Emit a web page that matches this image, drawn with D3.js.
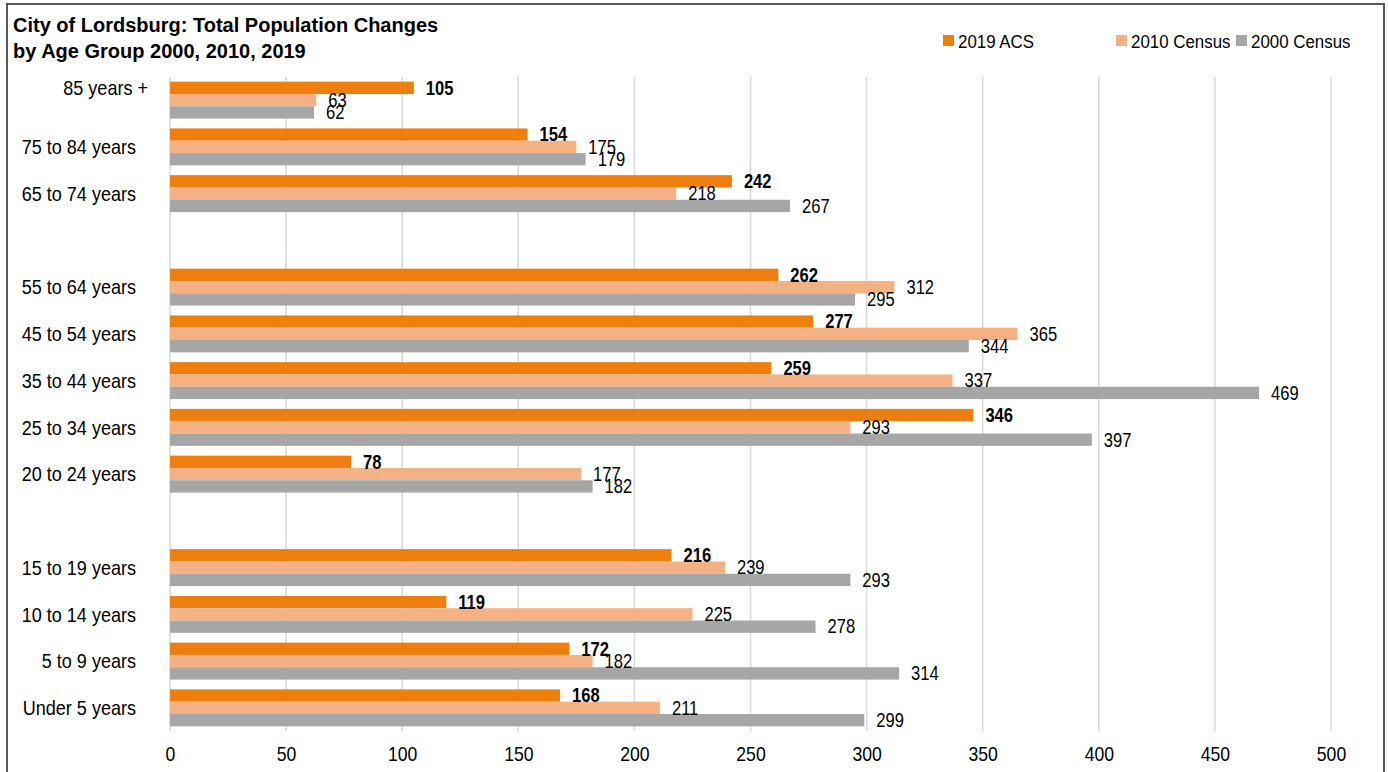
<!DOCTYPE html>
<html>
<head>
<meta charset="utf-8">
<script src="https://cdn.jsdelivr.net/npm/d3@7"></script>
<style>
  body { margin: 0; background: #fff; }
  svg { display: block; }
</style>
</head>
<body>
<div id="chart"></div>
<script>
// categories top to bottom, blank rows are the gaps between the age blocks
const categories = ['85 years +', '75 to 84 years', '65 to 74 years', '', '55 to 64 years', '45 to 54 years',
  '35 to 44 years', '25 to 34 years', '20 to 24 years', ' ', '15 to 19 years', '10 to 14 years',
  '5 to 9 years', 'Under 5 years']
const seriesNames = ['2019 ACS', '2010 Census', '2000 Census']
const acs2019 = [105, 154, 242, null, 262, 277, 259, 346, 78, null, 216, 119, 172, 168]
const census2010 = [63, 175, 218, null, 312, 365, 337, 293, 177, null, 239, 225, 182, 211]
const census2000 = [62, 179, 267, null, 295, 344, 469, 397, 182, null, 293, 278, 314, 299]
const xTicks = [0, 50, 100, 150, 200, 250, 300, 350, 400, 450, 500]

const FONT = "'Liberation Sans', Arial, sans-serif"
const width = 1388
const height = 772
const margin = { top: 77, right: 56, bottom: 41, left: 170 }
const colors = ['#ee7f0e', '#f4b183', '#a6a6a6']

const values = [acs2019, census2010, census2000]
const data = categories.map((c, i) => ({ cat: c, vals: values.map(v => v[i]) }))

// no narrow font available, so squeeze the text horizontally around its anchor
const condense = (sel, k) => sel.each(function() {
  const t = d3.select(this)
  const x0 = +t.attr('x') || 0
  t.attr('transform', `translate(${x0},0) scale(${k},1) translate(${-x0},0)`)
})

const svg = d3.select('#chart').append('svg')
  .attr('width', width)
  .attr('height', height)
  .style('font-family', FONT)

// frame
svg.append('rect')
  .attr('x', 7).attr('y', 4)
  .attr('width', 1377).attr('height', 780)
  .attr('fill', 'none')
  .attr('stroke', '#595959')
  .attr('stroke-width', 2)

const x = d3.scaleLinear().domain([0, 500]).range([margin.left, width - margin.right - 1])
const y = d3.scaleBand()
  .domain(categories)
  .range([margin.top, height - margin.bottom])
  .paddingInner(0.21)
  .paddingOuter(0.1)
const ySub = d3.scaleBand().domain(d3.range(3)).range([0, y.bandwidth()])

// gridlines
svg.append('g')
  .selectAll('line')
  .data(xTicks)
  .join('line')
  .attr('x1', d => x(d)).attr('x2', d => x(d))
  .attr('y1', margin.top).attr('y2', height - margin.bottom)
  .attr('stroke', '#d9d9d9')
  .attr('stroke-width', 1.5)

// x axis labels
svg.append('g')
  .attr('transform', `translate(0,${height - margin.bottom})`)
  .call(d3.axisBottom(x).tickValues(xTicks).tickSize(0).tickPadding(16))
  .call(g => g.select('.domain').remove())
  .call(g => g.selectAll('text')
    .attr('font-family', FONT)
    .attr('font-size', 20)
    .attr('fill', '#000')
    .call(condense, 0.88))

// y labels
svg.append('g')
  .selectAll('text')
  .data(categories.filter(c => c.trim() !== ''))
  .join('text')
  .attr('x', d => d === '85 years +' ? 148 : 136)
  .attr('y', d => y(d) + y.bandwidth() / 2 + (d === '85 years +' ? -12 : 0))
  .attr('dy', '0.35em')
  .attr('text-anchor', 'end')
  .attr('font-size', 20.5)
  .attr('fill', '#000')
  .text(d => d)
  .call(condense, 0.88)

// bars
const rows = svg.append('g')
  .selectAll('g')
  .data(data.filter(d => d.cat.trim() !== ''))
  .join('g')
  .attr('transform', d => `translate(0,${y(d.cat)})`)

rows.selectAll('rect')
  .data(d => d.vals)
  .join('rect')
  .attr('x', x(0))
  .attr('y', (d, i) => ySub(i))
  .attr('width', d => x(d) - x(0))
  .attr('height', ySub.bandwidth())
  .attr('fill', (d, i) => colors[i])

rows.selectAll('text')
  .data(d => d.vals)
  .join('text')
  .attr('x', d => x(d) + 12)
  .attr('y', (d, i) => ySub(i) + ySub.bandwidth() / 2)
  .attr('dy', '0.35em')
  .attr('font-size', 19.5)
  .attr('font-weight', (d, i) => i === 0 ? 'bold' : 'normal')
  .attr('fill', '#000')
  .text(d => d)
  .call(condense, 0.85)

// title
svg.append('text')
  .attr('x', 13).attr('y', 32)
  .attr('font-size', 20)
  .attr('font-weight', 'bold')
  .selectAll('tspan')
  .data(['City of Lordsburg: Total Population Changes', 'by Age Group 2000, 2010, 2019'])
  .join('tspan')
  .attr('x', 13)
  .attr('dy', (d, i) => i === 0 ? 0 : 26)
  .text(d => d)

// legend
const legendX = [943, 1116, 1236]
const legend = svg.append('g')
  .selectAll('g')
  .data(seriesNames)
  .join('g')
  .attr('transform', (d, i) => `translate(${legendX[i]},35)`)

legend.append('rect')
  .attr('width', 11).attr('height', 11)
  .attr('fill', (d, i) => colors[i])

legend.append('text')
  .attr('x', 15).attr('y', 6)
  .attr('dy', '0.35em')
  .attr('font-size', 19)
  .attr('fill', '#000')
  .text(d => d)
  .call(condense, 0.89)
</script>
</body>
</html>
